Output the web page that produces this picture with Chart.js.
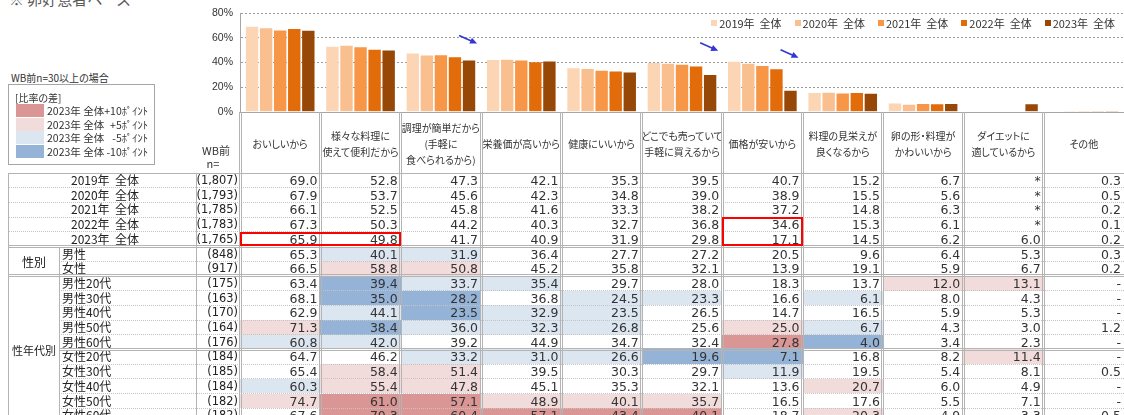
<!DOCTYPE html>
<html><head><meta charset="utf-8">
<script src="https://cdn.jsdelivr.net/npm/chart.js@4.4.1/dist/chart.umd.min.js"></script>
<style>
html,body{margin:0;padding:0;background:#fff;}
body{width:1124px;height:415px;overflow:hidden;position:relative;font-family:"Noto Sans CJK JP","Noto Sans",sans-serif;color:#333;}
.abs{position:absolute;box-sizing:border-box;}
.jp{font-family:"Noto Sans CJK JP",sans-serif;font-feature-settings:"palt";white-space:pre;}
.num{font-family:"DejaVu Sans",sans-serif;white-space:pre;}
#title{left:9px;top:-9px;font-size:15px;color:#595959;line-height:15px;}
#note{left:11px;top:72px;font-size:10px;line-height:12px;color:#333;}
#diffbox{left:8px;top:84px;width:147px;height:81px;border:1px solid #a6a6a6;}
#legend{top:17px;right:9px;display:flex;gap:13px;font-size:11px;line-height:12px;}
#legend .it{display:flex;align-items:center;}
#legend .sq{width:6px;height:6px;margin-right:2px;}
</style></head><body>
<div id="title" class="abs jp">※ 卵好意者ベース</div>
<div id="note" class="abs jp">WB前n=30以上の場合</div>
<div id="diffbox" class="abs"></div>
<div class="abs" style="left:0;top:0;width:1124px;height:140px"><canvas id="c" width="1124" height="114"></canvas></div>
<div id="legend" class="abs jp"></div>
<div id="table" class="abs" style="left:0;top:0;width:1124px;height:415px"></div>
<script>
// ---------- data ----------
const categories = [
  ['おいしいから'],
  ['様々な料理に','使えて便利だから'],
  ['調理が簡単だから','(手軽に','食べられるから)'],
  ['栄養価が高いから'],
  ['健康にいいから'],
  ['どこでも売っていて','手軽に買えるから'],
  ['価格が安いから'],
  ['料理の見栄えが','良くなるから'],
  ['卵の形・料理が','かわいいから'],
  ['ダイエットに','適しているから'],
  ['その他']
];
const years = ['2019年  全体','2020年  全体','2021年  全体','2022年  全体','2023年  全体'];
const nYears = ['(1,807)','(1,793)','(1,785)','(1,783)','(1,765)'];
const v2019 = [69.0, 52.8, 47.3, 42.1, 35.3, 39.5, 40.7, 15.2, 6.7, null, 0.3];
const v2020 = [67.9, 53.7, 45.6, 42.3, 34.8, 39.0, 38.9, 15.5, 5.6, null, 0.5];
const v2021 = [66.1, 52.5, 45.8, 41.6, 33.3, 38.2, 37.2, 14.8, 6.3, null, 0.2];
const v2022 = [67.3, 50.3, 44.2, 40.3, 32.7, 36.8, 34.6, 15.3, 6.1, null, 0.1];
const v2023 = [65.9, 49.8, 41.7, 40.9, 31.9, 29.8, 17.1, 14.5, 6.2, 6.0, 0.2];

const segLabels = ['男性','女性','男性20代','男性30代','男性40代','男性50代','男性60代','女性20代','女性30代','女性40代','女性50代','女性60代'];
const segN = ['(848)','(917)','(175)','(163)','(170)','(164)','(176)','(184)','(185)','(184)','(182)','(182)'];
const male   = [65.3, 40.1, 31.9, 36.4, 27.7, 27.2, 20.5,  9.6,  6.4,  5.3, 0.3];
const female = [66.5, 58.8, 50.8, 45.2, 35.8, 32.1, 13.9, 19.1,  5.9,  6.7, 0.2];
const m20 = [63.4, 39.4, 33.7, 35.4, 29.7, 28.0, 18.3, 13.7, 12.0, 13.1, null];
const m30 = [68.1, 35.0, 28.2, 36.8, 24.5, 23.3, 16.6,  6.1,  8.0,  4.3, null];
const m40 = [62.9, 44.1, 23.5, 32.9, 23.5, 26.5, 14.7, 16.5,  5.9,  5.3, null];
const m50 = [71.3, 38.4, 36.0, 32.3, 26.8, 25.6, 25.0,  6.7,  4.3,  3.0, 1.2];
const m60 = [60.8, 42.0, 39.2, 44.9, 34.7, 32.4, 27.8,  4.0,  3.4,  2.3, null];
const f20 = [64.7, 46.2, 33.2, 31.0, 26.6, 19.6,  7.1, 16.8,  8.2, 11.4, null];
const f30 = [65.4, 58.4, 51.4, 39.5, 30.3, 29.7, 11.9, 19.5,  5.4,  8.1, 0.5];
const f40 = [60.3, 55.4, 47.8, 45.1, 35.3, 32.1, 13.6, 20.7,  6.0,  4.9, null];
const f50 = [74.7, 61.0, 57.1, 48.9, 40.1, 35.7, 16.5, 17.6,  5.5,  7.1, null];
const f60 = [67.6, 70.3, 60.4, 57.1, 43.4, 40.1, 18.7, 20.3,  4.9,  3.3, 0.5];
const segValues = [male, female, m20, m30, m40, m50, m60, f20, f30, f40, f50, f60];

const diffLegend = [['+10ﾎﾟｲﾝﾄ',2],['+5ﾎﾟｲﾝﾄ',1],['-5ﾎﾟｲﾝﾄ',-1],['-10ﾎﾟｲﾝﾄ',-2]];
const arrowNotes = [{cat:2, value:55.5},{cat:5, value:49.5},{cat:6, value:43.9}];

// ---------- styles ----------
const barColors = ['#fcd5b4','#fabf8f','#f79646','#e26b0a','#974706'];
const levelColors = {'2':'#da9694','1':'#f2dcdb','-1':'#dce6f1','-2':'#95b3d7'};
const yearSeries = [v2019, v2020, v2021, v2022, v2023];

const overlay = {
  id:'overlay',
  afterDatasetsDraw(chart){
    const {ctx, chartArea:a, scales:{x, y}} = chart;
    ctx.save();
    ctx.strokeStyle = '#a6a6a6'; ctx.lineWidth = 1;
    const y0 = Math.round(y.getPixelForValue(0)) + 0.5;
    ctx.beginPath(); ctx.moveTo(a.left, y0); ctx.lineTo(a.right, y0); ctx.stroke();
    const cw = a.width / categories.length;
    ctx.strokeStyle = '#3535d5'; ctx.fillStyle = '#3535d5'; ctx.lineWidth = 1.6;
    arrowNotes.forEach(n => {
      const ex = x.getPixelForValue(n.cat) + cw * 0.45, ey = y.getPixelForValue(n.value);
      const sx = ex - 18, sy = ey - 8;
      const ang = Math.atan2(ey - sy, ex - sx);
      ctx.beginPath(); ctx.moveTo(sx, sy); ctx.lineTo(ex - 5*Math.cos(ang), ey - 5*Math.sin(ang)); ctx.stroke();
      ctx.beginPath();
      ctx.moveTo(ex, ey);
      ctx.lineTo(ex - 7*Math.cos(ang) + 3.2*Math.sin(ang), ey - 7*Math.sin(ang) - 3.2*Math.cos(ang));
      ctx.lineTo(ex - 7*Math.cos(ang) - 3.2*Math.sin(ang), ey - 7*Math.sin(ang) + 3.2*Math.cos(ang));
      ctx.closePath(); ctx.fill();
    });
    ctx.restore();
  }
};

const chart = new Chart(document.getElementById('c'), {
  type:'bar',
  data:{
    labels: categories.map(c => c.join('')),
    datasets: yearSeries.map((d,i) => ({label:years[i], data:d, backgroundColor:barColors[i], borderWidth:0, barPercentage:0.88, categoryPercentage:0.875}))
  },
  options:{
    responsive:false, maintainAspectRatio:false, animation:false, devicePixelRatio:1,
    layout:{autoPadding:false, padding:{top:13,bottom:2,left:0,right:0}},
    plugins:{legend:{display:false}, tooltip:{enabled:false}},
    scales:{
      x:{display:false},
      y:{min:0,max:80,
         ticks:{stepSize:20, callback:v => v + '%', font:{family:'"Liberation Sans", Arial, sans-serif', size:10.5}, color:'#333', padding:7},
         grid:{color:c => c.tick && c.tick.value === 0 ? 'rgba(0,0,0,0)' : '#9a9a9a', drawTicks:false, lineWidth:1},
         border:{display:true, color:'#a6a6a6', dash:[2,2]},
         afterFit:s => { s.width = 240; }
      }
    }
  },
  plugins:[overlay]
});
// make sure the 0% baseline sits at y=112 and 80% at y=13
{
  const a0 = chart.chartArea;
  const fix = Math.round(112 - a0.bottom);
  if (fix !== 0) chart.resize(1124, 114 + fix);
}

// ---------- legend ----------
const lg = document.getElementById('legend');
years.forEach((y,i) => {
  const it = document.createElement('div'); it.className = 'it';
  it.innerHTML = '<span class="sq" style="background:'+barColors[i]+'"></span><span>'+y+'</span>';
  lg.appendChild(it);
});

// ---------- left diff legend ----------
const T = document.getElementById('table');
function box(x, y, w, h, css, html, cls){
  const d = document.createElement('div');
  d.className = 'abs' + (cls ? ' ' + cls : '');
  d.style.cssText = 'left:'+x+'px;top:'+y+'px;width:'+w+'px;height:'+h+'px;' + (css || '');
  if (html !== undefined) d.innerHTML = html;
  T.appendChild(d); return d;
}
box(15, 91, 100, 14, 'font-size:10px;line-height:14px;', '[比率の差]', 'jp');
const swTops = [104, 118, 131, 145];
diffLegend.forEach((d,i) => {
  box(16, swTops[i], 28, 13, 'background:' + levelColors[d[1]] + ';');
  box(47, swTops[i], 101, 13, 'font-size:10.5px;line-height:13px;display:flex;justify-content:space-between;', '<span>2023年 全体</span><span>' + d[0] + '</span>', 'jp');
});

// ---------- table ----------
const a = chart.chartArea;
const nCol = categories.length;
const colW = a.width / nCol;
const edge = i => a.left + i * colW;
const headTop = Math.round(chart.scales.y.getPixelForValue(0));
const bodyTop = 173, rowH = 14.7;
const rowTop = i => bodyTop + i * rowH;
const lineC = '#b4b4b4';

// header labels
categories.forEach((lines, i) => {
  box(edge(i), headTop, colW, bodyTop - headTop, 'display:flex;flex-direction:column;justify-content:center;align-items:center;font-size:10px;line-height:16px;color:#333;padding-top:2px;', lines.map(l => '<div>' + l + '</div>').join(''), 'jp');
});
box(196, 143, 40, 15, 'font-size:11px;line-height:15px;text-align:center;', 'WB前', 'jp');
box(196, 156, 34, 15, 'font-size:11px;line-height:15px;text-align:center;', 'n=', 'jp');

// rows
const rows = [];
years.forEach((y,i) => rows.push({label:y, n:nYears[i], vals:yearSeries[i], empty:'*', top:true}));
segLabels.forEach((l,i) => rows.push({label:l, n:segN[i], vals:segValues[i], empty:'-', top:false}));

function level(v, base){
  if (v == null || base == null) return 0;
  const d = Math.round((v - base) * 10) / 10;
  if (d >= 10) return 2;
  if (d > 5) return 1;
  if (d <= -10) return -2;
  if (d < -5) return -1;
  return 0;
}

rows.forEach((r, ri) => {
  const t = rowTop(ri);
  if (r.top) {
    box(8, t, 188, rowH, 'font-size:12px;line-height:'+rowH+'px;text-align:center;color:#222;padding-left:6px;', r.label, 'jp');
  } else {
    box(62, t, 130, rowH, 'font-size:12px;line-height:'+rowH+'px;color:#222;', r.label, 'jp');
  }
  box(196, t, 43, rowH, 'font-size:11.4px;line-height:'+rowH+'px;text-align:right;padding-right:1px;color:#222;', r.n, 'num');
  r.vals.forEach((v, ci) => {
    const lv = r.top ? 0 : level(v, v2023[ci]);
    const bg = lv ? 'background:' + levelColors[String(lv)] + ';' : '';
    box(edge(ci), t, colW, rowH, bg + 'font-size:12.5px;line-height:'+(rowH+1)+'px;text-align:right;padding-right:3px;color:#333;', v == null ? r.empty : v.toFixed(1), 'num');
  });
});
// group labels
box(9, rowTop(5), 50, 2*rowH, 'display:flex;align-items:center;justify-content:center;font-size:12px;color:#222;', '性別', 'jp');
box(9, rowTop(7), 50, 10*rowH, 'display:flex;align-items:center;justify-content:center;font-size:11px;color:#222;padding-top:2px;', '性年代別', 'jp');

// lines
const majors = [0, 5, 7, 12];
const bottom = rowTop(rows.length) + 20;
for (let i = 1; i <= rows.length; i++) {
  if (majors.includes(i)) continue;
  const x1 = (i <= 5) ? 8 : 59;
  box(x1, rowTop(i) - 0.5, 1124 - x1, 1, 'border-top:1px dotted #c4c4c4;');
}
majors.forEach(i => {
  const x1 = (i === 12) ? 59 : 8;
  if (i === 0) box(x1, rowTop(i) - 0.5, 1124 - x1, 1, 'border-top:1px solid ' + lineC + ';');
  else box(x1, rowTop(i) - 1.5, 1124 - x1, 3, 'border-top:1px solid ' + lineC + ';border-bottom:1px solid ' + lineC + ';');
});
box(8, bodyTop, 1, bottom - bodyTop, 'background:' + lineC + ';');
box(59, rowTop(5), 1, bottom - rowTop(5), 'background:' + lineC + ';');
box(195.5, bodyTop, 1, bottom - bodyTop, 'background:' + lineC + ';');
for (let i = 0; i < nCol; i++) {
  box(edge(i) - 1.5, headTop, 3, bottom - headTop, 'border-left:1px solid ' + lineC + ';border-right:1px solid ' + lineC + ';');
}
// highlight boxes
box(edge(0) - 0.5, rowTop(4), edge(2) - edge(0) + 1, rowH, 'border:2px solid #ff0000;');
box(edge(6) - 0.5, rowTop(3), colW + 1, 2*rowH, 'border:2px solid #ff0000;');
</script>
</body></html>
